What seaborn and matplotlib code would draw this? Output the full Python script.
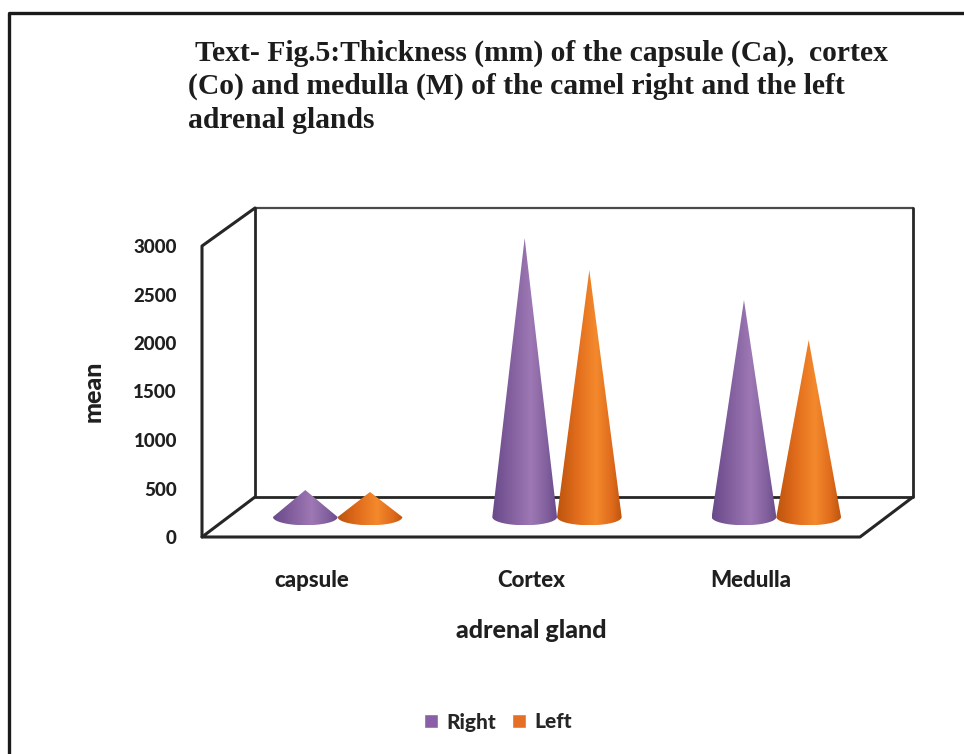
import matplotlib
import matplotlib.pyplot as plt
import matplotlib.transforms as mtransforms
import numpy as np
import pandas as pd
import seaborn as sns
from matplotlib.colors import LinearSegmentedColormap
from matplotlib.patches import PathPatch
from matplotlib.path import Path

matplotlib.use("agg")

categories = ["capsule", "Cortex", "Medulla"]
right_mean = [278, 2876, 2237]
left_mean = [258, 2546, 1825]
y_ticks = [0, 500, 1000, 1500, 2000, 2500, 3000]
title_lines = [
    "Text- Fig.5:Thickness (mm) of the capsule (Ca),  cortex",
    "(Co) and medulla (M) of the camel right and the left",
    "adrenal glands",
]

WIDTH, HEIGHT = 964, 754
DARK = "#262626"
TEXT = "#1f1f1f"


def _px_rect(left, top, right, bottom):
    # figure fractions from image pixels
    return [left / WIDTH, 1 - bottom / HEIGHT, (right - left) / WIDTH, (bottom - top) / HEIGHT]


def _draw_frame(fig):
    frame = fig.add_axes([0, 0, 1, 1], zorder=0)
    frame.set_xlim(0, WIDTH)
    frame.set_ylim(HEIGHT, 0)
    frame.axis("off")
    # page border, open on the right and at the bottom
    frame.plot([9, 9, 964], [754, 13, 13], color="#1a1a1a", lw=2.4)
    # back wall and floor of the 3d box
    frame.plot([255, 913], [208, 208], color="#4a4a4a", lw=1.6)
    frame.plot([255, 255, 913, 913], [208, 497, 497, 208], color=DARK, lw=2.0)
    frame.plot([202, 202, 255], [537, 246, 208], color=DARK, lw=2.2)
    frame.plot([255, 202, 860, 913], [497, 537, 537, 497], color=DARK, lw=2.2)


def _draw_cones(ax, fig, colormaps):
    # base of a cone sits half way into the box depth
    shift = mtransforms.ScaledTranslation(26 / fig.dpi, 20 / fig.dpi, fig.dpi_scale_trans)
    trans = ax.transData + shift
    base_drop = 85
    for container, cmap in zip(ax.containers, colormaps):
        for bar in container:
            x0, w, h = bar.get_x(), bar.get_width(), bar.get_height()
            cx = x0 + w / 2
            theta = np.linspace(np.pi, 2 * np.pi, 40)
            xs = cx + w / 2 * np.cos(theta)
            ys = base_drop * np.sin(theta)
            verts = np.vstack([[cx, h], np.column_stack([xs, ys]), [cx, h]])
            patch = PathPatch(Path(verts), transform=trans, fc="none", ec="none")
            ax.add_patch(patch)
            im = ax.imshow(
                np.linspace(0, 1, 64)[None, :],
                cmap=cmap,
                extent=(x0, x0 + w, -base_drop, h),
                aspect="auto",
                transform=trans,
                zorder=3,
            )
            im.set_clip_path(patch)
            im.set_clip_box(fig.bbox)
            bar.set_visible(False)


def main():
    sns.set_theme(style="white")
    plt.rcParams["font.family"] = ["Lato", "DejaVu Sans"]
    plt.rcParams["font.weight"] = 900

    df = pd.DataFrame(
        {
            "adrenal gland": categories * 2,
            "mean": right_mean + left_mean,
            "side": ["Right"] * 3 + ["Left"] * 3,
        }
    )

    fig = plt.figure(figsize=(WIDTH / 100, HEIGHT / 100), dpi=100)
    _draw_frame(fig)

    ax = fig.add_axes(_px_rect(202, 246, 860, 537), zorder=1)
    ax.patch.set_alpha(0)
    sns.barplot(
        data=df,
        x="adrenal gland",
        y="mean",
        hue="side",
        palette={"Right": "#8a5fa6", "Left": "#e56f25"},
        saturation=1,
        width=0.59,
        gap=0,
        ax=ax,
    )

    purple = LinearSegmentedColormap.from_list(
        "purple",
        [(0, "#6a4a8c"), (0.3, "#84609f"), (0.6, "#9d78b4"), (0.85, "#82609e"), (1, "#6b4b8c")],
    )
    orange = LinearSegmentedColormap.from_list(
        "orange",
        [(0, "#bd540e"), (0.3, "#e16c1c"), (0.6, "#f4892c"), (0.85, "#df6b1c"), (1, "#c0560f")],
    )
    _draw_cones(ax, fig, [purple, orange])

    ax.set_xlim(-0.5, 2.5)
    ax.set_ylim(0, 3000)
    ax.set_yticks(y_ticks)
    sns.despine(ax=ax, left=True, bottom=True)
    ax.tick_params(axis="y", length=0, pad=18, labelsize=13.5, colors=TEXT)
    ax.tick_params(axis="x", length=0, pad=24, labelsize=16, colors=TEXT)
    ax.set_xlabel("adrenal gland", fontsize=18, fontweight=900, color=TEXT, labelpad=20)
    ax.set_ylabel("mean", fontsize=18, fontweight=900, color=TEXT, labelpad=21)

    sns.move_legend(
        ax,
        "center",
        bbox_to_anchor=(498 / WIDTH, 1 - 722 / HEIGHT),
        bbox_transform=fig.transFigure,
        ncol=2,
        title=None,
        frameon=False,
        fontsize=15,
        handlelength=0.65,
        handleheight=0.65,
        handletextpad=0.4,
        columnspacing=0.8,
    )

    for line, x, y in zip(title_lines, [195, 188, 188], [53, 86, 121]):
        fig.text(
            x / WIDTH,
            1 - y / HEIGHT,
            line,
            family="Liberation Serif",
            fontweight="bold",
            fontsize=21.3,
            color="#1c1c1c",
            va="center",
            ha="left",
        )

    fig.savefig("out.png", dpi=100)


if __name__ == "__main__":
    main()
